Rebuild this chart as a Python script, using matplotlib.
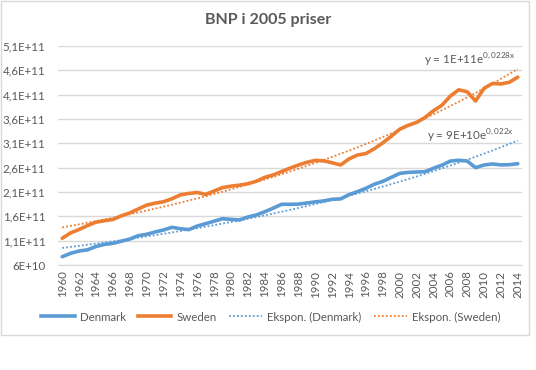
import numpy as np
import matplotlib
matplotlib.use("Agg")
import matplotlib.pyplot as plt
from matplotlib.patches import Rectangle

plt.rcParams['font.family'] = ['Lato', 'DejaVu Sans']

years = list(range(1960, 2015))

denmark = [7.71e10, 8.40e10, 8.88e10, 9.12e10, 9.80e10, 1.023e11, 1.044e11, 1.089e11, 1.132e11, 1.202e11,
           1.231e11, 1.278e11, 1.319e11, 1.375e11, 1.346e11, 1.327e11, 1.400e11, 1.449e11, 1.500e11, 1.551e11,
           1.537e11, 1.525e11, 1.586e11, 1.628e11, 1.693e11, 1.767e11, 1.847e11, 1.847e11, 1.851e11, 1.874e11,
           1.897e11, 1.917e11, 1.950e11, 1.958e11, 2.045e11, 2.108e11, 2.176e11, 2.260e11, 2.318e11, 2.400e11,
           2.482e11, 2.503e11, 2.511e11, 2.517e11, 2.587e11, 2.651e11, 2.735e11, 2.752e11, 2.737e11, 2.600e11,
           2.655e11, 2.676e11, 2.657e11, 2.661e11, 2.682e11]

sweden = [1.149e11, 1.26e11, 1.33e11, 1.41e11, 1.48e11, 1.51e11, 1.535e11, 1.61e11, 1.67e11, 1.75e11,
          1.83e11, 1.87e11, 1.90e11, 1.96e11, 2.04e11, 2.07e11, 2.09e11, 2.05e11, 2.12e11, 2.19e11,
          2.22e11, 2.24e11, 2.27e11, 2.32e11, 2.40e11, 2.45e11, 2.52e11, 2.59e11, 2.655e11, 2.71e11,
          2.75e11, 2.74e11, 2.70e11, 2.655e11, 2.78e11, 2.86e11, 2.89e11, 2.99e11, 3.11e11, 3.245e11,
          3.39e11, 3.47e11, 3.53e11, 3.63e11, 3.77e11, 3.88e11, 4.07e11, 4.20e11, 4.16e11, 3.97e11,
          4.23e11, 4.33e11, 4.32e11, 4.355e11, 4.46e11]

yticks = [6e10, 1.1e11, 1.6e11, 2.1e11, 2.6e11, 3.1e11, 3.6e11, 4.1e11, 4.6e11, 5.1e11]
ytick_labels = ["6E+10", "1,1E+11", "1,6E+11", "2,1E+11", "2,6E+11", "3,1E+11", "3,6E+11", "4,1E+11", "4,6E+11", "5,1E+11"]

blue = "#5B9BD5"
orange = "#ED7D31"
grey = "#595959"

fig = plt.figure(figsize=(5.36, 3.70), dpi=100)
fig.patches.append(Rectangle((1 / 536, 1 - 335 / 370), 528 / 536, 334 / 370, transform=fig.transFigure,
                             fill=False, edgecolor="#D9D9D9", linewidth=1))

ax = fig.add_axes([58 / 536, 1 - 265 / 370, 464 / 536, 219 / 370])
xi = np.arange(len(years))

# excel-style exponential trendlines (x = 1..n)
xn = xi + 1
for vals, col in [(denmark, blue), (sweden, orange)]:
    b, a = np.polyfit(xn, np.log(vals), 1)
    ax.plot(xi, np.exp(a) * np.exp(b * xn), color=col, linestyle=(0, (1, 1.2)), linewidth=1.3)

ax.plot(xi, denmark, color=blue, linewidth=2.6, solid_capstyle="round", zorder=3)
ax.plot(xi, sweden, color=orange, linewidth=2.6, solid_capstyle="round", zorder=3)

ax.set_xlim(-0.5, len(years) - 0.5)
ax.set_ylim(6e10, 5.1e11)
ax.set_yticks(yticks)
ax.set_yticklabels(ytick_labels)
ax.set_xticks(xi[::2])
ax.set_xticklabels([str(y) for y in years[::2]], rotation=90)
ax.tick_params(axis="both", length=0, colors=grey, labelsize=8.3)
ax.tick_params(axis="y", pad=9)
ax.tick_params(axis="x", pad=4)
ax.grid(axis="y", color="#D9D9D9", linewidth=1)
ax.set_axisbelow(True)
for s in ["top", "right", "left"]:
    ax.spines[s].set_visible(False)
ax.spines["bottom"].set_color("#D9D9D9")

ax.text(48.3, 4.62e11, r"y = 1E+11e$^{\mathregular{0,0228x}}$", color=grey, fontsize=8.4, ha="center", va="bottom")
ax.text(48.4, 3.07e11, r"y = 9E+10e$^{\mathregular{0,022x}}$", color=grey, fontsize=8.4, ha="center", va="bottom")

fig.text(268 / 536, 1 - 20 / 370, "BNP i 2005 priser", color=grey, fontsize=11.5, fontweight="bold",
         ha="center", va="center")

h1, = ax.plot([], [], color=blue, linewidth=2.6)
h2, = ax.plot([], [], color=orange, linewidth=2.6)
h3, = ax.plot([], [], color=blue, linestyle=(0, (1, 1.2)), linewidth=1.3)
h4, = ax.plot([], [], color=orange, linestyle=(0, (1, 1.2)), linewidth=1.3)
leg = fig.legend([h1, h2, h3, h4], ["Denmark", "Sweden", "Ekspon. (Denmark)", "Ekspon. (Sweden)"],
                 loc="center", bbox_to_anchor=(271 / 536, 1 - 317 / 370), ncol=4, frameon=False,
                 fontsize=8.3, handlelength=2.9, columnspacing=1.05, handletextpad=0.45)
for t in leg.get_texts():
    t.set_color(grey)

fig.savefig("out.png", dpi=100)
